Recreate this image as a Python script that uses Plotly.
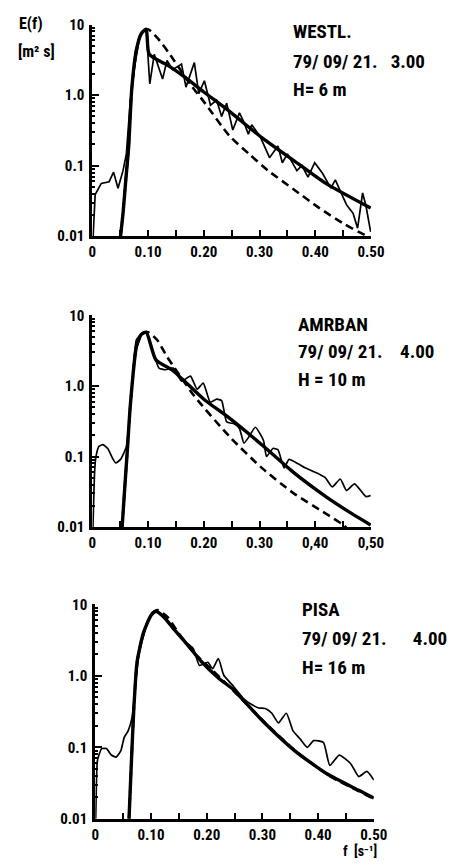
import plotly.graph_objects as go

# ---------------- data ----------------
# Panel 1: WESTL.
meas_f1 = [0.0, 0.003, 0.005, 0.016, 0.030, 0.038, 0.046, 0.055, 0.061, 0.068, 0.076, 0.085,
           0.0966, 0.103, 0.111, 0.126, 0.134, 0.144, 0.160, 0.168, 0.183, 0.191, 0.201, 0.212,
           0.223, 0.232, 0.241, 0.252, 0.264, 0.271, 0.280, 0.286, 0.301, 0.318, 0.333, 0.341,
           0.350, 0.367, 0.376, 0.387, 0.399, 0.413, 0.428, 0.436, 0.456, 0.468, 0.476, 0.485,
           0.491, 0.4995]
meas_E1 = [0.006, 0.025, 0.039, 0.056, 0.059, 0.081, 0.048, 0.085, 0.147, 0.81, 2.6, 6.8,
           8.9, 1.45, 3.8, 1.7, 3.1, 2.3, 2.76, 1.3, 2.9, 1.05, 1.6, 0.72,
           0.85, 0.50, 0.77, 0.32, 0.56, 0.43, 0.28, 0.38, 0.26, 0.13, 0.19, 0.11,
           0.147, 0.085, 0.10, 0.069, 0.11, 0.078, 0.048, 0.063, 0.028, 0.021, 0.013, 0.041,
           0.027, 0.0115]
fit_f1 = [0.0506, 0.055, 0.060, 0.065, 0.0707, 0.079, 0.088, 0.0966, 0.102, 0.137, 0.166,
          0.200, 0.246, 0.304, 0.3615, 0.419, 0.4995]
fit_E1 = [0.01, 0.021, 0.063, 0.18, 1.23, 4.4, 7.5, 8.6, 3.8, 2.6, 1.8,
          1.11, 0.59, 0.25, 0.118, 0.056, 0.025]
dash_f1 = [0.0506, 0.055, 0.060, 0.065, 0.0707, 0.079, 0.088, 0.100, 0.1167, 0.137, 0.177,
           0.200, 0.246, 0.281, 0.3155, 0.3615, 0.4075, 0.453, 0.491, 0.4995]
dash_E1 = [0.01, 0.021, 0.063, 0.18, 1.23, 4.4, 7.6, 8.6, 6.5, 4.0, 1.38,
           0.81, 0.265, 0.147, 0.085, 0.046, 0.025, 0.0147, 0.0102, 0.0095]

# Panel 2: AMRBAN
meas_f2 = [0.0, 0.004, 0.006, 0.012, 0.019, 0.0276, 0.036, 0.042, 0.0506, 0.056, 0.061,
           0.0707, 0.079, 0.088, 0.0966, 0.108, 0.1195, 0.131, 0.145, 0.160, 0.176, 0.188,
           0.199, 0.2115, 0.223, 0.232, 0.241, 0.255, 0.264, 0.272, 0.281, 0.2925, 0.307,
           0.3126, 0.324, 0.333, 0.344, 0.353, 0.370, 0.3816, 0.395, 0.4075, 0.418, 0.4305,
           0.445, 0.456, 0.4707, 0.491, 0.4995]
meas_E2 = [0.005, 0.06, 0.095, 0.14, 0.147, 0.13, 0.095, 0.081, 0.091, 0.11, 0.138,
           0.89, 4.5, 5.5, 5.8, 3.2, 1.8, 1.7, 1.8, 1.17, 1.38, 0.90,
           1.10, 0.59, 0.65, 0.62, 0.31, 0.29, 0.25, 0.155, 0.19, 0.26, 0.17,
           0.10, 0.13, 0.125, 0.069, 0.091, 0.078, 0.069, 0.062, 0.056, 0.05, 0.037,
           0.048, 0.033, 0.041, 0.027, 0.028]
fit_f2 = [0.0534, 0.058, 0.063, 0.068, 0.079, 0.088, 0.0966, 0.114, 0.1425, 0.1655, 0.200,
          0.246, 0.304, 0.3615, 0.419, 0.465, 0.4995]
fit_E2 = [0.01, 0.035, 0.13, 0.52, 3.6, 5.4, 5.8, 2.35, 1.7, 1.17, 0.65,
          0.35, 0.147, 0.059, 0.027, 0.0156, 0.0107]
dash_f2 = [0.0534, 0.058, 0.063, 0.068, 0.079, 0.088, 0.100, 0.1167, 0.134, 0.183, 0.2466,
           0.304, 0.3615, 0.419, 0.4505, 0.456]
dash_E2 = [0.01, 0.035, 0.13, 0.52, 3.6, 5.4, 5.8, 4.45, 2.6, 0.72, 0.19,
           0.069, 0.03, 0.0155, 0.0107, 0.0098]

# Panel 3: PISA
meas_f3 = [0.0, 0.002, 0.004, 0.0115, 0.020, 0.029, 0.0375, 0.046, 0.052, 0.059, 0.066,
           0.072, 0.078, 0.0865, 0.098, 0.1067, 0.121, 0.141, 0.164, 0.176, 0.187, 0.202,
           0.2105, 0.221, 0.2307, 0.245, 0.265, 0.280, 0.294, 0.305, 0.317, 0.3287, 0.343,
           0.355, 0.368, 0.3806, 0.392, 0.4095, 0.421, 0.438, 0.4585, 0.473, 0.4874, 0.5]
meas_E3 = [0.005, 0.03, 0.066, 0.096, 0.096, 0.078, 0.073, 0.09, 0.138, 0.17, 0.26,
           0.74, 1.9, 3.6, 6.8, 8.0, 6.8, 4.5, 2.9, 2.4, 1.4, 1.55,
           1.26, 1.74, 1.02, 0.76, 0.49, 0.40, 0.355, 0.35, 0.30, 0.22, 0.30,
           0.17, 0.13, 0.10, 0.124, 0.117, 0.056, 0.078, 0.059, 0.039, 0.046, 0.035]
fit_f3 = [0.0606, 0.065, 0.069, 0.075, 0.0865, 0.101, 0.1096, 0.125, 0.141, 0.164, 0.190,
          0.222, 0.248, 0.300, 0.3576, 0.415, 0.473, 0.5]
fit_E3 = [0.01, 0.066, 0.32, 1.55, 4.0, 7.2, 8.0, 6.4, 4.5, 2.8, 1.6,
          0.92, 0.64, 0.235, 0.09, 0.043, 0.025, 0.0195]
dash_f3 = [0.0606, 0.065, 0.069, 0.075, 0.0865, 0.101, 0.112, 0.13, 0.15, 0.175, 0.21,
           0.25, 0.30, 0.36, 0.42, 0.47, 0.5]
dash_E3 = [0.01, 0.066, 0.32, 1.55, 4.0, 7.4, 8.3, 6.6, 3.9, 2.2, 1.2,
           0.6, 0.24, 0.088, 0.04, 0.025, 0.019]

y_tickvals = [0.01, 0.1, 1, 10]
y_ticktext = ["0.01", "0.1", "1.0", "10"]
x_tickvals = [0, 0.1, 0.2, 0.3, 0.4, 0.5]
x_ticktext_1 = ["0", "0.10", "0.20", "0.30", "0.40", "0.50"]
x_ticktext_2 = ["0", "0.10", "0.20", "0.30", "0,40", "0,50"]
x_ticktext_3 = ["0", "0.10", "0.20", "0.30", "0.40", "0.50"]

station_labels = [
    ["WESTL.", "79/ 09/ 21.   3.00", "H= 6 m"],
    ["AMRBAN", "79/ 09/ 21.    4.00", "H = 10 m"],
    ["PISA", "79/ 09/ 21.      4.00", "H= 16 m"],
]

# ---------------- layout geometry ----------------
W, H = 457, 866
FONT = "Liberation Sans Narrow, Roboto Condensed, Liberation Sans, Arial, sans-serif"

def px_x(x):
    return x / W

def px_y(y):
    return 1 - y / H

panels = [
    dict(x0=92, x1=382, y0=16, y1=232),
    dict(x0=92, x1=382, y0=313, y1=529),
    dict(x0=95, x1=385, y0=608, y1=827),
]
text_pos = [
    (299, [23, 54, 82]),
    (304, [322, 350, 378]),
    (308, [613, 643, 672]),
]

minor_y = [m * 10 ** k for k in (-2, -1, 0) for m in range(2, 10)]

fig = go.Figure()
data = [
    (meas_f1, meas_E1, fit_f1, fit_E1, dash_f1, dash_E1, x_ticktext_1, "linear"),
    (meas_f2, meas_E2, fit_f2, fit_E2, dash_f2, dash_E2, x_ticktext_2, "spline"),
    (meas_f3, meas_E3, fit_f3, fit_E3, dash_f3, dash_E3, x_ticktext_3, "spline"),
]

layout = dict(
    width=W, height=H,
    margin=dict(l=0, r=0, t=0, b=0),
    paper_bgcolor="white", plot_bgcolor="white",
    showlegend=False,
    annotations=[],
)

for i, (mf, me, ff, fe, df, de, xtt, mshape) in enumerate(data):
    n = "" if i == 0 else str(i + 1)
    xa, ya = "x" + n, "y" + n
    fig.add_trace(go.Scatter(x=df, y=de, mode="lines", xaxis=xa, yaxis=ya,
                             line=dict(color="black", width=2.6, dash="8px,5px", shape="spline", smoothing=0.6)))
    fig.add_trace(go.Scatter(x=ff, y=fe, mode="lines", xaxis=xa, yaxis=ya,
                             line=dict(color="black", width=3.4, shape="spline", smoothing=0.6)))
    fig.add_trace(go.Scatter(x=mf, y=me, mode="lines", xaxis=xa, yaxis=ya,
                             line=dict(color="black", width=1.7, shape=mshape, smoothing=0.5)))
    p = panels[i]
    layout["xaxis" + n] = dict(
        domain=[px_x(p["x0"]), px_x(p["x1"])], anchor=ya, range=[0, 0.5],
        showline=True, linewidth=3, linecolor="black", showgrid=False, zeroline=False,
        tickmode="array", tickvals=x_tickvals, ticktext=xtt,
        ticks="inside", ticklen=6, tickwidth=2, tickcolor="black",
        minor=dict(tickvals=[0.05, 0.15, 0.25, 0.35, 0.45], ticks="inside", ticklen=6,
                   tickwidth=2, tickcolor="black", showgrid=False),
        tickfont=dict(family=FONT, size=15, color="black", weight="bold"),
        ticklabelstandoff=0,
    )
    layout["yaxis" + n] = dict(
        domain=[px_y(p["y1"]), px_y(p["y0"])], anchor=xa, type="log", range=[-2, 1],
        showline=True, linewidth=3, linecolor="black", showgrid=False, zeroline=False,
        tickmode="array", tickvals=y_tickvals, ticktext=y_ticktext,
        ticks="inside", ticklen=7, tickwidth=2, tickcolor="black",
        minor=dict(tickvals=minor_y, ticks="inside", ticklen=3, tickwidth=1.5,
                   tickcolor="black", showgrid=False),
        tickfont=dict(family=FONT, size=15, color="black", weight="bold"),
        ticklabelstandoff=2,
    )
    tx, tys = text_pos[i]
    for txt, ty in zip(station_labels[i], tys):
        layout["annotations"].append(dict(
            text=txt, x=px_x(tx), y=px_y(ty), xref="paper", yref="paper",
            xanchor="left", yanchor="middle", showarrow=False,
            font=dict(family=FONT, size=19, color="black", weight="bold")))

layout["annotations"] += [
    dict(text="E(f)", x=px_x(14), y=px_y(15), xref="paper", yref="paper", xanchor="left",
         yanchor="middle", showarrow=False, font=dict(family=FONT, size=16, color="black", weight="bold")),
    dict(text="[m² s]", x=px_x(12), y=px_y(43), xref="paper", yref="paper", xanchor="left",
         yanchor="middle", showarrow=False, font=dict(family=FONT, size=16, color="black", weight="bold")),
    dict(text="f  [s⁻¹]", x=px_x(352), y=0, xref="paper", yref="paper", xanchor="left",
         yanchor="bottom", yshift=-3, showarrow=False, borderpad=0,
         font=dict(family=FONT, size=14, color="black", weight="bold")),
]

fig.update_layout(**layout)
fig.write_html("out.html")
